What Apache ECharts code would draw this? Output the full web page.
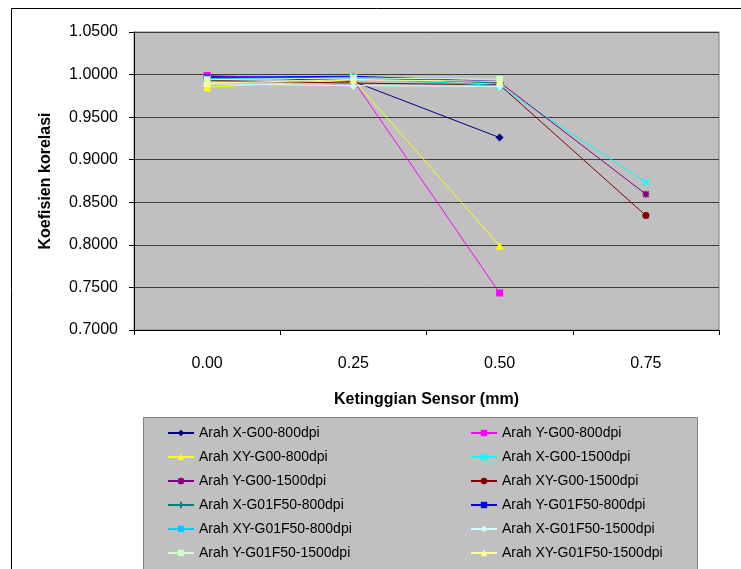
<!DOCTYPE html>
<html>
<head>
<meta charset="utf-8">
<script src="https://cdn.jsdelivr.net/npm/echarts@6/dist/echarts.min.js"></script>
<style>
  html, body { margin: 0; padding: 0; background: #fff; }
  #chart { width: 741px; height: 569px; }
</style>
</head>
<body>
<div id="chart"></div>
<script>
// sensor height categories (mm)
const categories = ['0.00', '0.25', '0.50', '0.75'];

const xG00_800 = [0.998, 0.992, 0.926, null];
const yG00_800 = [0.999, 0.993, 0.7435, null];
const xyG00_800 = [0.985, 0.994, 0.799, null];
const xG00_1500 = [0.995, 0.997, 0.986, 0.8735];
const yG00_1500 = [0.997, 0.996, 0.991, 0.8595];
const xyG00_1500 = [0.993, 0.990, 0.988, 0.8344];
const xG01F50_800 = [0.996, 0.997, 0.990, null];
const yG01F50_800 = [0.997, 0.998, 0.992, null];
const xyG01F50_800 = [0.994, 0.996, 0.987, null];
const xG01F50_1500 = [0.989, 0.987, 0.986, null];
const yG01F50_1500 = [0.994, 0.996, 0.9945, null];
const xyG01F50_1500 = [0.990, 0.994, 0.992, null];

const yTicks = { min: 0.70, max: 1.05, step: 0.05 };

const P_X = 'path://M0,0L10,10M10,0L0,10';
const P_PLUS = 'path://M5,0L5,10M0,5L10,5';
const P_STAR = 'path://M5,0L5,10M0,5L10,5M1,1L9,9M9,1L1,9';

const defs = [
  ['Arah X-G00-800dpi', xG00_800, '#000080', 'diamond', 8],
  ['Arah Y-G00-800dpi', yG00_800, '#FF00FF', 'rect', 7],
  ['Arah XY-G00-800dpi', xyG00_800, '#FFFF00', 'triangle', 8],
  ['Arah X-G00-1500dpi', xG00_1500, '#00FFFF', P_X, 7],
  ['Arah Y-G00-1500dpi', yG00_1500, '#800080', P_STAR, 7],
  ['Arah XY-G00-1500dpi', xyG00_1500, '#800000', 'circle', 7],
  ['Arah X-G01F50-800dpi', xG01F50_800, '#008080', P_PLUS, 8],
  ['Arah Y-G01F50-800dpi', yG01F50_800, '#0000FF', 'rect', [7, 2]],
  ['Arah XY-G01F50-800dpi', xyG01F50_800, '#00CCFF', 'rect', [7, 4]],
  ['Arah X-G01F50-1500dpi', xG01F50_1500, '#CCFFFF', 'diamond', 8],
  ['Arah Y-G01F50-1500dpi', yG01F50_1500, '#CCFFCC', 'rect', 7],
  ['Arah XY-G01F50-1500dpi', xyG01F50_1500, '#FFFF99', 'triangle', 8]
];

const series = defs.map(d => {
  const isPath = d[3].indexOf('path://') === 0;
  return {
    name: d[0],
    type: 'line',
    data: d[1],
    symbol: d[3],
    symbolSize: d[4],
    showSymbol: true,
    connectNulls: false,
    color: d[2],
    lineStyle: { color: d[2], width: 1 },
    itemStyle: isPath
      ? { color: d[2], borderColor: d[2], borderWidth: 1.5 }
      : { color: d[2], borderWidth: 0 },
    emphasis: { disabled: true },
    animation: false
  };
});

const names = defs.map(d => d[0]);
const legendBase = {
  orient: 'vertical',
  top: 421,
  itemWidth: 26,
  itemHeight: 8,
  itemGap: 10,
  textStyle: { fontFamily: 'Liberation Sans', fontSize: 14, color: '#000' },
  selectedMode: false
};

const chart = echarts.init(document.getElementById('chart'));
chart.setOption({
  backgroundColor: '#fff',
  textStyle: { fontFamily: 'Liberation Sans' },
  graphic: [
    { type: 'rect', shape: { x: 11.5, y: 8.5, width: 760, height: 600 },
      style: { fill: 'none', stroke: '#000', lineWidth: 1 }, z: -10 },
    { type: 'rect', shape: { x: 143.5, y: 417.5, width: 554, height: 200 },
      style: { fill: '#C0C0C0', stroke: '#808080', lineWidth: 1 }, z: -5 }
  ],
  grid: {
    left: 134, right: 22, top: 32, bottom: 239,
    show: true, backgroundColor: '#C0C0C0', borderColor: '#808080', borderWidth: 1
  },
  legend: [
    Object.assign({}, legendBase, { left: 162, data: names.filter((n, i) => i % 2 === 0) }),
    Object.assign({}, legendBase, { left: 465, data: names.filter((n, i) => i % 2 === 1) })
  ],
  xAxis: {
    type: 'category',
    data: categories,
    boundaryGap: true,
    name: 'Ketinggian Sensor (mm)',
    nameLocation: 'middle',
    nameGap: 62,
    nameTextStyle: { fontFamily: 'Liberation Sans', fontSize: 16, fontWeight: 'bold', color: '#000' },
    axisLine: { lineStyle: { color: '#000', width: 1 } },
    axisTick: { show: true, length: 5, lineStyle: { color: '#000' } },
    axisLabel: { fontFamily: 'Liberation Sans', fontSize: 16, color: '#000', margin: 26 },
    splitLine: { show: false }
  },
  yAxis: {
    type: 'value',
    min: yTicks.min,
    max: yTicks.max,
    interval: yTicks.step,
    name: 'Koefisien korelasi',
    nameLocation: 'middle',
    nameGap: 80,
    nameTextStyle: { fontFamily: 'Liberation Sans', fontSize: 16, fontWeight: 'bold', color: '#000' },
    axisLine: { show: true, lineStyle: { color: '#000', width: 1 } },
    axisTick: { show: true, length: 5, lineStyle: { color: '#000' } },
    axisLabel: {
      fontFamily: 'Liberation Sans', fontSize: 16, color: '#000', margin: 16,
      formatter: v => v.toFixed(4)
    },
    splitLine: { show: true, lineStyle: { color: '#3c3c3c', width: 1 } }
  },
  series: series
});
</script>
</body>
</html>
